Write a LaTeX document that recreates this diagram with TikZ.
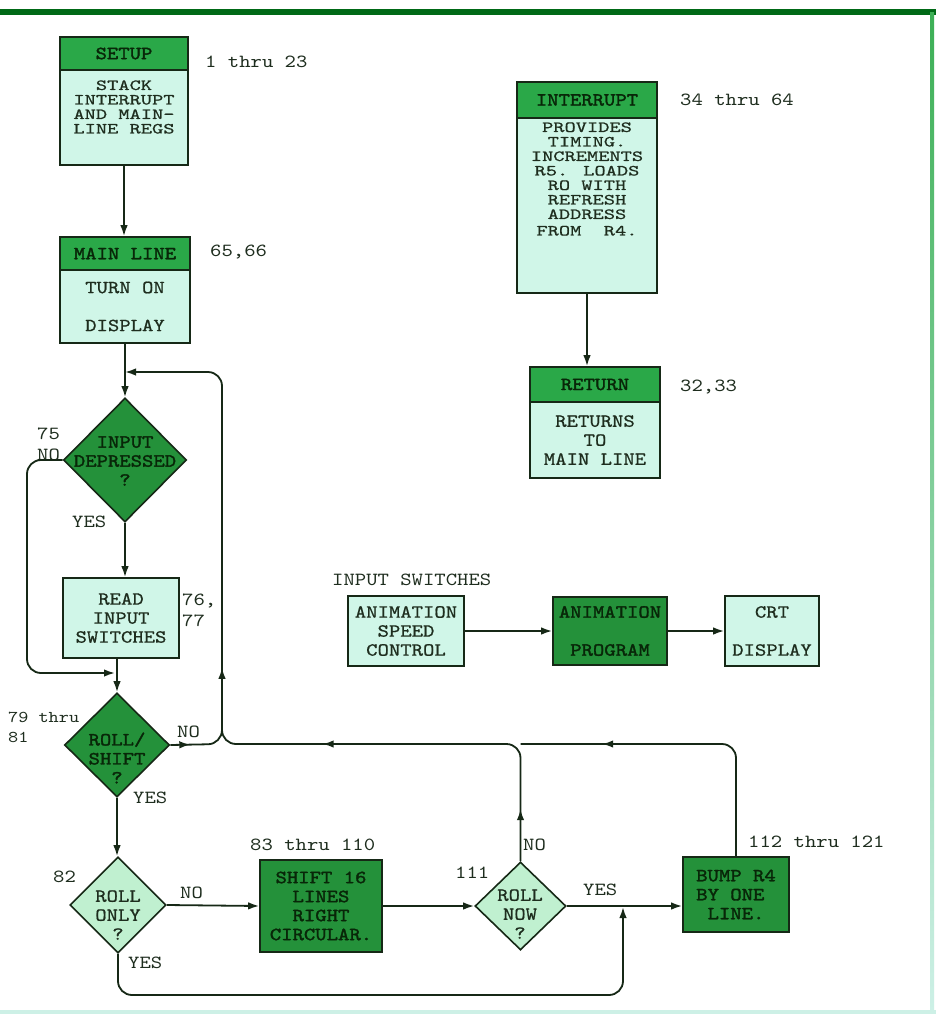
\documentclass[tikz,border=0pt]{standalone}
\usepackage{fontspec}
\usetikzlibrary{shapes.geometric,arrows.meta,decorations.markings}
\newfontfamily\tw{lmmono10-regular.otf}[FakeStretch=1.17]
\newfontfamily\twm{lmmono10-regular.otf}[FakeStretch=1.17, FakeBold=0.8]
\newfontfamily\twb{lmmono10-regular.otf}[FakeStretch=1.17, FakeBold=1.8]
\newfontfamily\twx{lmmono10-regular.otf}[FakeStretch=1.38, FakeBold=0.8]
\newcommand\flab{\tw\fontsize{18.5}{19}\selectfont}
\newcommand\fmed{\twm\fontsize{18.5}{19}\selectfont}
\newcommand\fbld{\twb\fontsize{18.5}{19}\selectfont}
\newcommand\ftight{\twx\fontsize{15.5}{14.5}\selectfont}
\newcommand\fmedw{\twm\fontsize{18.5}{38}\selectfont}
\newcommand\fbldw{\twb\fontsize{18.5}{38}\selectfont}
\newcommand\fsmall{\tw\fontsize{16.5}{18}\selectfont}
\definecolor{hdrg}{RGB}{42,168,72}
\definecolor{dkg}{RGB}{36,145,58}
\definecolor{mint}{RGB}{208,246,232}
\definecolor{lmint}{RGB}{192,240,208}
\definecolor{edge}{RGB}{22,40,22}
\definecolor{txt}{RGB}{30,45,30}
\definecolor{dtxt}{RGB}{8,38,8}
\definecolor{frameg}{RGB}{0,105,22}
\definecolor{frameg2}{RGB}{60,175,85}
\definecolor{framel}{RGB}{205,240,230}
\tikzset{
  tipA/.tip={Latex[length=11pt,width=7.5pt]},
  marksone/.style={postaction={decorate}, decoration={markings,
     mark=at position #1 with {\arrow{tipA}}}},
  markstwo/.style 2 args={postaction={decorate}, decoration={markings,
     mark=at position #1 with {\arrow{tipA}},
     mark=at position #2 with {\arrow{tipA}}}},
}
\begin{document}
\begin{tikzpicture}[x=1pt,y=-1pt,
  every node/.style={font=\flab, text=txt, inner sep=0pt},
  hbox/.style={draw=edge, line width=1.6pt, fill=hdrg, text=dtxt, font=\fbld},
  bbox/.style={draw=edge, line width=1.6pt, fill=mint, font=\fmed},
  dbox/.style={draw=edge, line width=1.6pt, fill=dkg, text=dtxt, font=\fbld},
  dmd/.style={diamond, draw=edge, line width=1.6pt, inner sep=0pt},
  lbl/.style={anchor=west},
  ln/.style={draw=edge, line width=1.8pt, rounded corners=14pt},
  arr/.style={ln, -tipA},
]
\useasboundingbox (0,0) rectangle (936,1015);
\fill[white] (0,0) rectangle (936,1015);
% frame
\fill[frameg] (0,9) rectangle (936,15);
\shade[top color=frameg2, bottom color=framel] (930,12) rectangle (934,1010);
\fill[framel] (0,1010) rectangle (936,1014);

% SETUP
\node[hbox, minimum width=128, minimum height=33] (setupH) at (124,53.5) {SETUP};
\node[bbox, minimum width=128, minimum height=95] (setupB) at (124,117.5) {};
\node[align=center, font=\ftight] (setupT) at (124,107) {STACK\\INTERRUPT\\AND MAIN-\\LINE REGS};
% MAIN LINE
\node[hbox, minimum width=130, minimum height=33] (mainH) at (125,253.5) {MAIN LINE};
\node[bbox, minimum width=130, minimum height=73, align=center, font=\fmedw] (mainB) at (125,306.5) {TURN ON\\DISPLAY};
% INTERRUPT
\node[hbox, minimum width=140, minimum height=36] (intH) at (587,100) {INTERRUPT};
\node[bbox, minimum width=140, minimum height=175] (intB) at (587,205.5) {};
\node[align=center, font=\ftight] (intT) at (587,179) {PROVIDES\\TIMING.\\INCREMENTS\\R5. LOADS\\RO WITH\\REFRESH\\ADDRESS\\[2pt]FROM~~R4.};
% RETURN
\node[hbox, minimum width=130, minimum height=35] (retH) at (595,384.5) {RETURN};
\node[bbox, minimum width=130, minimum height=76, align=center] (retB) at (595,440) {RETURNS\\TO\\MAIN LINE};
% INPUT DEPRESSED
\node[dmd, fill=dkg, minimum width=123, minimum height=124] (dIn) at (125,460) {};
\node[align=center, text=dtxt, font=\fbld] (dInT) at (125,461) {INPUT\\DEPRESSED\\?};
% READ INPUT SWITCHES
\node[bbox, minimum width=116, minimum height=80, align=center] (readB) at (121,618) {READ\\INPUT\\SWITCHES};
% ROLL/SHIFT
\node[dmd, fill=dkg, minimum width=105, minimum height=104] (dRS) at (117,745) {};
\node[align=center, text=dtxt, font=\fbld] (dRST) at (117,758) {ROLL/\\SHIFT\\?};
% ROLL ONLY
\node[dmd, fill=lmint, minimum width=96, minimum height=96] (dRO) at (118,905) {};
\node[align=center, font=\fmed] (dROT) at (118,915) {ROLL\\ONLY\\?};
% SHIFT
\node[dbox, minimum width=122, minimum height=92, align=center] (shift) at (321,906) {SHIFT 16\\LINES\\RIGHT\\CIRCULAR.};
% ROLL NOW
\node[dmd, fill=lmint, minimum width=91, minimum height=88] (dRN) at (520.5,906) {};
\node[align=center, font=\fmed] (dRNT) at (520,914) {ROLL\\NOW\\?};
% BUMP
\node[dbox, minimum width=106, minimum height=75, align=left] (bump) at (736,894.5) {BUMP R4\\BY ONE\\~LINE.};
% animation row
\node[bbox, minimum width=116, minimum height=70, align=center] (aSpeed) at (406,631) {ANIMATION\\SPEED\\CONTROL};
\node[dbox, minimum width=114, minimum height=68, align=center, font=\fbldw] (aProg) at (610,631) {ANIMATION\\PROGRAM};
\node[bbox, minimum width=94, minimum height=70, align=center, font=\fmedw] (crt) at (772,631) {CRT\\DISPLAY};

% labels
\node[lbl] (l1) at (205,62) {1 thru 23};
\node[lbl] (l2) at (210,252) {65,66};
\node[lbl] (l3) at (680,100) {34 thru 64};
\node[lbl] (l4) at (680,387) {32,33};
\node[lbl] (l5) at (37,434) {75};
\node[lbl] (l6) at (37,455) {NO};
\node[lbl] (l7) at (72,522) {YES};
\node[lbl] (l8) at (182,601) {76,};
\node[lbl] (l9) at (182,621) {77};
\node[lbl, font=\fsmall] (l10) at (8,717) {79 thru};
\node[lbl, font=\fsmall] (l11) at (8,737) {81};
\node[lbl] (l12) at (177,732) {NO};
\node[lbl] (l13) at (133,798) {YES};
\node[lbl] (l14) at (53,877) {82};
\node[lbl] (l15) at (180,893) {NO};
\node[lbl] (l16) at (250,845) {83 thru 110};
\node[lbl] (l17) at (128,963) {YES};
\node[lbl] (l18) at (455,873) {111};
\node[lbl] (l19) at (523,845) {NO};
\node[lbl] (l20) at (583,890) {YES};
\node[lbl] (l21) at (748,842) {112 thru 121};
\node[lbl] (l22) at (332,580) {INPUT SWITCHES};

% junction coordinates
\coordinate (jIn) at (125,372);
\coordinate (jTop) at (222,372);
\coordinate (jV) at (222,744);
\coordinate (jRN) at (520.5,744);
\coordinate (jL1) at (27,460);
\coordinate (jL2) at (27,673);
\coordinate (jRS) at (117,673);
\coordinate (jB) at (623,995);
\coordinate (jYes) at (623,906);

% connectors
\draw[arr] (setupB.south) -- (setupB.south |- mainH.north);
\draw[arr] (intB.south) -- (intB.south |- retH.north);
\draw[arr] (mainB.south) -- (dIn.north);
\draw[arr] (dIn.south) -- (dIn.south |- readB.north);
\draw[arr] (dRS.north |- readB.south) -- (dRS.north);
\draw[arr, shorten >=2pt] (dIn.west) -- (jL1) -- (jL2) -- (jRS);
\draw[arr, markstwo={20pt}{122pt}] (dRS.east) -- (jV) -- (jTop) -- (jIn);
\draw[ln, markstwo={52pt}{309pt}] (dRN.north) -- (jRN) -- (jV) -- ++(0,-40);
\draw[ln, marksone={240pt}] (bump.north) -- (bump.north |- jRN) -- (jRN);
\draw[arr] (dRS.south) -- (dRS.south |- dRO.north);
\draw[arr] (dRO.east) -- (shift.west);
\draw[arr] (shift.east) -- (dRN.west);
\draw[arr] (dRN.east) -- (dRN.east -| bump.west);
\draw[arr, shorten >=1pt] (dRO.south) -- (dRO.south |- jB) -- (jB) -- (jYes);
\draw[arr] (aSpeed.east) -- (aProg.west);
\draw[arr] (aProg.east) -- (crt.west);
\end{tikzpicture}
\end{document}
